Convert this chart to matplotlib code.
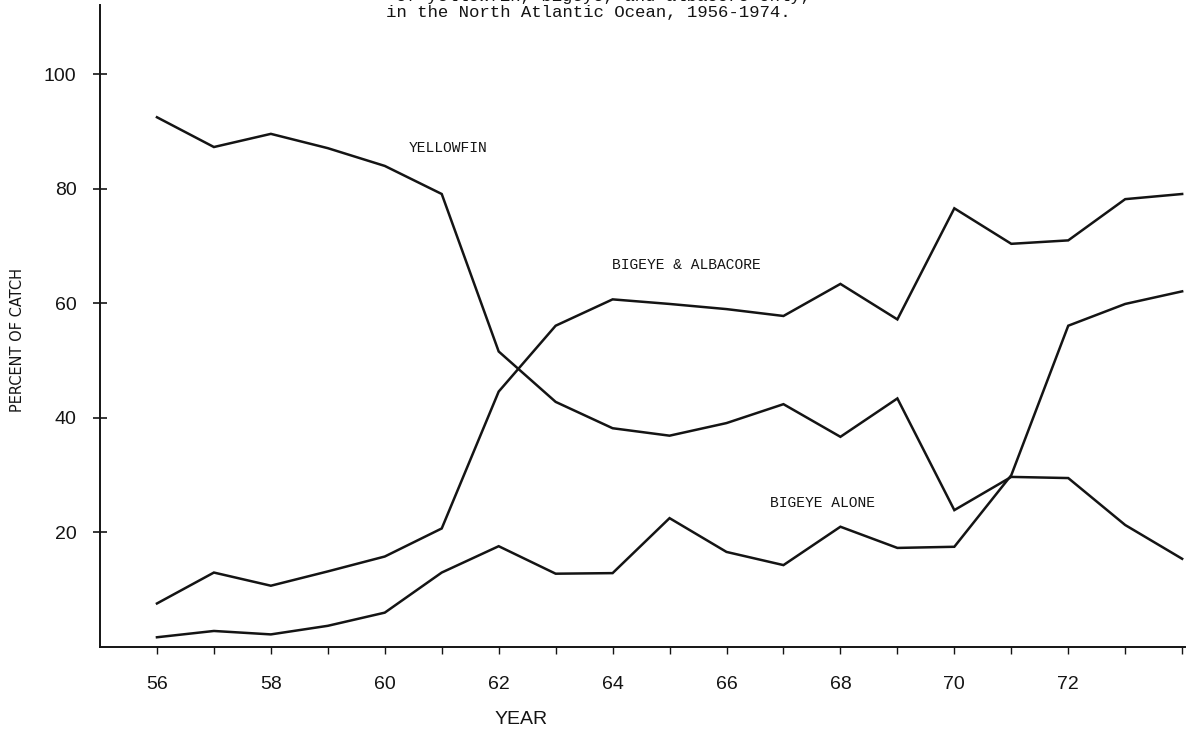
import matplotlib
matplotlib.use("Agg")
import matplotlib.pyplot as plt
from matplotlib.ticker import FixedLocator, NullFormatter

years = list(range(1956, 1975))

yellowfin = [92.5, 87.3, 89.6, 87.1, 84.0, 79.1, 51.6, 42.8, 38.2, 36.9,
             39.1, 42.4, 36.7, 43.4, 23.9, 29.7, 29.5, 21.3, 15.4]
bigeye_albacore = [7.6, 13.0, 10.7, 13.2, 15.8, 20.7, 44.6, 56.1, 60.7, 59.9,
                   59.0, 57.8, 63.4, 57.2, 76.6, 70.4, 71.0, 78.2, 79.1]
bigeye_alone = [1.7, 2.8, 2.2, 3.7, 6.0, 13.0, 17.6, 12.8, 12.9, 22.5,
                16.6, 14.3, 21.0, 17.3, 17.5, 30.0, 56.1, 59.9, 62.1]

y_ticks = [20, 40, 60, 80, 100]
y_labels = ["20", "40", "60", "80", "100"]
x_major = [56, 58, 60, 62, 64, 66, 68, 70, 72]
x_labels = ["56", "58", "60", "62", "64", "66", "68", "70", "72"]

ink = "#141414"
mono = ["Liberation Mono", "DejaVu Sans Mono"]
narrow = ["Liberation Sans"]

W, H = 1192, 738
fig = plt.figure(figsize=(W / 100, H / 100), dpi=100)
ax = fig.add_axes([100 / W, (H - 647) / H, 1085 / W, 642 / H])

yr2 = [y - 1900 for y in years]
for series in (yellowfin, bigeye_albacore, bigeye_alone):
    ax.plot(yr2, series, color=ink, lw=1.8, solid_joinstyle="miter")

ax.set_xlim(55.0, 74.05)
ax.set_ylim(0, 112.1)

for side in ("top", "right"):
    ax.spines[side].set_visible(False)
for side in ("left", "bottom"):
    ax.spines[side].set_color(ink)
    ax.spines[side].set_linewidth(1.4)

ax.yaxis.set_major_locator(FixedLocator(y_ticks))
ax.set_yticklabels(y_labels, family=narrow, fontsize=14, color=ink)
ax.tick_params(axis="y", direction="inout", length=10, width=1.2,
               pad=12, colors=ink)

ax.xaxis.set_major_locator(FixedLocator(x_major))
ax.set_xticklabels(x_labels, family=narrow, fontsize=14, color=ink)
ax.xaxis.set_minor_locator(FixedLocator([57, 59, 61, 63, 65, 67, 69, 71, 73, 74]))
ax.xaxis.set_minor_formatter(NullFormatter())
ax.tick_params(axis="x", which="both", direction="out", length=5, width=1.0,
               pad=16, colors=ink)

ax.text(61.12, 87.2, "YELLOWFIN", family=mono, fontsize=10.5,
        ha="center", va="center", color=ink)
ax.text(65.3, 66.7, "BIGEYE & ALBACORE", family=mono, fontsize=10.5,
        ha="center", va="center", color=ink)
ax.text(67.68, 25.2, "BIGEYE ALONE", family=mono, fontsize=10.5,
        ha="center", va="center", color=ink)

fig.text(18 / W, 1 - 340 / H, "PERCENT OF CATCH", rotation=90,
         family=["DejaVu Sans"], fontsize=10.5, ha="center", va="center",
         color=ink)
fig.text(521 / W, 1 - 720 / H, "YEAR", family=narrow, fontsize=14,
         ha="center", va="center", color=ink)

# Two-line caption; the upper line runs off the top edge of the page
fig.text(603 / W, 1 + 3 / H, "of yellowfin, bigeye, and albacore only,",
         family=mono, fontsize=12.5, ha="center", va="center", color=ink)
fig.text(588 / W, 1 - 12 / H, "in the North Atlantic Ocean, 1956-1974.",
         family=mono, fontsize=12.5, ha="center", va="center", color=ink)

fig.savefig("out.png", dpi=100)
